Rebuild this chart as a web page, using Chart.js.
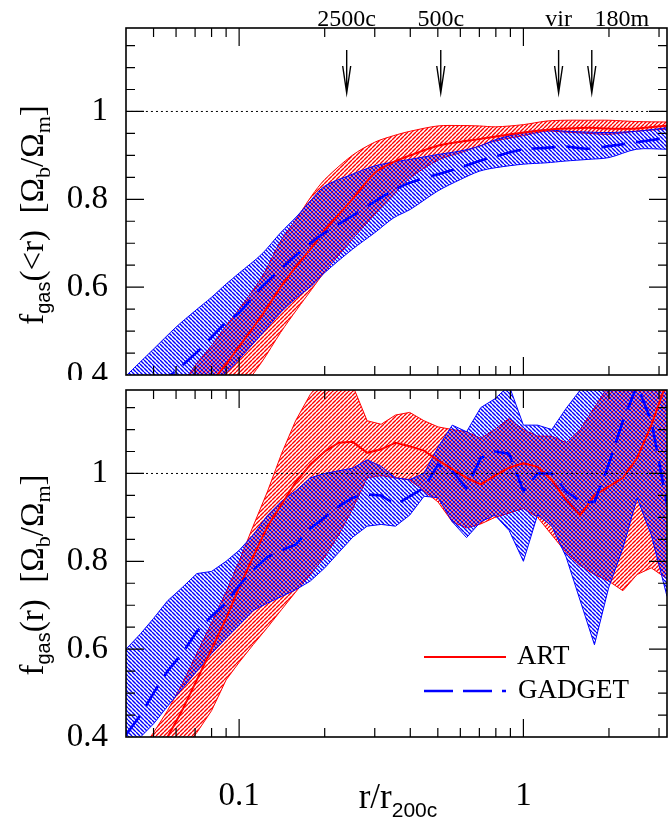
<!DOCTYPE html>
<html>
<head>
<meta charset="utf-8">
<script src="https://cdn.jsdelivr.net/npm/chart.js@4.4.1/dist/chart.umd.min.js"></script>
<style>
  html, body { margin: 0; padding: 0; background: #fff; }
  #wrap { position: relative; width: 668px; height: 823px; }
  .box { position: absolute; left: 0; width: 668px; }
</style>
</head>
<body>
<div id="wrap">
  <div class="box" style="top:0;height:380px"><canvas id="topChart"></canvas></div>
  <div class="box" style="top:380px;height:443px"><canvas id="botChart"></canvas></div>
</div>
<script>
const SERIF = '"Liberation Serif", "DejaVu Serif", serif';
const SANS = '"Liberation Sans", "DejaVu Sans", sans-serif';

// ---- top panel: cumulative f_gas(<r) ----
const xTop = [0.04, 0.05, 0.06, 0.07, 0.08, 0.09, 0.1, 0.12, 0.14, 0.16, 0.18, 0.2, 0.25, 0.3, 0.35, 0.4, 0.5, 0.6, 0.7, 0.8, 1.0, 1.2, 1.4, 1.7, 2.0, 2.5, 3.2];
const artTopMed = [0.22, 0.27, 0.31, 0.35, 0.385, 0.425, 0.465, 0.535, 0.6, 0.65, 0.69, 0.73, 0.8, 0.86, 0.885, 0.9, 0.922, 0.931, 0.937, 0.943, 0.952, 0.958, 0.961, 0.963, 0.961, 0.961, 0.968];
const artTopHi  = [0.22, 0.29, 0.36, 0.421, 0.467, 0.512, 0.55, 0.622, 0.705, 0.758, 0.808, 0.845, 0.9, 0.93, 0.945, 0.955, 0.967, 0.968, 0.967, 0.965, 0.97, 0.978, 0.98, 0.98, 0.98, 0.977, 0.976];
const artTopLo  = [0.1, 0.15, 0.2, 0.24, 0.28, 0.32, 0.36, 0.429, 0.497, 0.55, 0.595, 0.635, 0.709, 0.766, 0.811, 0.849, 0.889, 0.906, 0.921, 0.933, 0.945, 0.955, 0.953, 0.95, 0.948, 0.955, 0.96];
const gadTopMed = [0.33, 0.37, 0.41, 0.448, 0.486, 0.52, 0.542, 0.6, 0.641, 0.675, 0.702, 0.724, 0.762, 0.795, 0.821, 0.838, 0.857, 0.872, 0.887, 0.898, 0.914, 0.917, 0.92, 0.915, 0.921, 0.93, 0.94];
const gadTopHi  = [0.398, 0.459, 0.509, 0.546, 0.577, 0.607, 0.632, 0.675, 0.724, 0.762, 0.8, 0.83, 0.857, 0.876, 0.885, 0.891, 0.902, 0.91, 0.921, 0.936, 0.952, 0.958, 0.955, 0.953, 0.952, 0.955, 0.963];
const gadTopLo  = [0.25, 0.28, 0.31, 0.345, 0.383, 0.406, 0.436, 0.493, 0.542, 0.577, 0.603, 0.633, 0.686, 0.724, 0.758, 0.777, 0.819, 0.845, 0.864, 0.872, 0.88, 0.883, 0.887, 0.891, 0.895, 0.914, 0.914];

// ---- bottom panel: differential f_gas(r) ----
const xBot = [0.04, 0.045, 0.05, 0.056, 0.063, 0.071, 0.08, 0.09, 0.1, 0.112, 0.126, 0.141, 0.158, 0.178, 0.2, 0.224, 0.251, 0.282, 0.316, 0.355, 0.398, 0.447, 0.501, 0.562, 0.631, 0.708, 0.794, 0.891, 1.0, 1.122, 1.259, 1.413, 1.585, 1.778, 1.995, 2.239, 2.512, 2.818, 3.2];
const artBotMed = [0.24, 0.29, 0.34, 0.40, 0.46, 0.53, 0.60, 0.67, 0.74, 0.81, 0.88, 0.93, 0.98, 1.02, 1.05, 1.07, 1.072, 1.047, 1.055, 1.07, 1.062, 1.052, 1.03, 1.01, 0.99, 0.975, 0.995, 1.013, 1.023, 1.015, 0.985, 0.94, 0.905, 0.95, 0.97, 0.99, 1.035, 1.11, 1.21];
const artBotHi  = [0.33, 0.37, 0.41, 0.46, 0.52, 0.59, 0.66, 0.73, 0.80, 0.88, 0.96, 1.045, 1.12, 1.18, 1.22, 1.22, 1.2, 1.12, 1.112, 1.133, 1.139, 1.12, 1.106, 1.1, 1.095, 1.08, 1.1, 1.125, 1.1, 1.085, 1.085, 1.07, 1.1, 1.15, 1.2, 1.25, 1.25, 1.25, 1.25];
const artBotLo  = [0.2, 0.25, 0.29, 0.33, 0.37, 0.41, 0.46, 0.53, 0.57, 0.61, 0.65, 0.69, 0.73, 0.77, 0.81, 0.86, 0.92, 0.99, 0.995, 0.99, 0.985, 0.96, 0.935, 0.89, 0.876, 0.885, 0.9, 0.91, 0.92, 0.9, 0.86, 0.82, 0.79, 0.77, 0.755, 0.733, 0.77, 0.785, 0.76];
const gadBotMed = [0.405, 0.45, 0.50, 0.55, 0.59, 0.64, 0.675, 0.705, 0.745, 0.78, 0.81, 0.825, 0.838, 0.875, 0.9, 0.925, 0.945, 0.952, 0.95, 0.929, 0.948, 0.967, 1.02, 1.005, 0.967, 1.035, 1.05, 1.045, 0.96, 1.0, 1.0, 0.96, 0.935, 0.935, 1.02, 1.12, 1.2, 1.12, 0.93];
const gadBotHi  = [0.6, 0.635, 0.67, 0.71, 0.74, 0.772, 0.777, 0.8, 0.825, 0.86, 0.905, 0.937, 0.96, 0.99, 1.0, 1.006, 1.012, 1.031, 1.016, 0.99, 0.986, 1.0, 1.06, 1.11, 1.095, 1.15, 1.17, 1.2, 1.11, 1.11, 1.1, 1.148, 1.19, 1.25, 1.25, 1.25, 1.25, 1.25, 1.25];
const gadBotLo  = [0.36, 0.40, 0.43, 0.47, 0.51, 0.55, 0.59, 0.625, 0.655, 0.688, 0.705, 0.72, 0.735, 0.755, 0.785, 0.82, 0.855, 0.88, 0.884, 0.88, 0.905, 0.948, 0.945, 0.89, 0.854, 0.89, 0.905, 0.87, 0.8, 0.906, 0.88, 0.81, 0.71, 0.61, 0.74, 0.83, 0.944, 0.86, 0.72];

// axes
const X_MIN = 0.04, X_MAX = 3.2, Y_MIN = 0.4, Y_MAX = 1.19;
const xTickLabels = [0.1, 1];
const yTickLabels = [0.4, 0.6, 0.8, 1];
const xMinor = [0.05, 0.06, 0.07, 0.08, 0.09, 0.2, 0.3, 0.4, 0.5, 0.6, 0.7, 0.8, 0.9, 2, 3];
const yMinor = [0.45, 0.5, 0.55, 0.65, 0.7, 0.75, 0.85, 0.9, 0.95, 1.05, 1.1, 1.15];
const yMajor = [0.6, 0.8, 1.0];

// overdensity radii marked with arrows
const markerR = [0.239, 0.512, 1.33, 1.74];
const markerNames = ['2500c', '500c', 'vir', '180m'];
const markerShift = [0, 0, 0, 30];

function pts(xs, ys) { return xs.map((x, i) => ({ x: x, y: ys[i] })); }

// diagonal hatching, "/" for ART and "\" for GADGET
function hatch(color, back) {
  const n = 4;
  const c = document.createElement('canvas');
  c.width = n; c.height = n;
  const g = c.getContext('2d');
  g.strokeStyle = color;
  g.lineWidth = 1.4;
  g.beginPath();
  for (let k = -n; k <= n; k += n) {
    if (back) { g.moveTo(k, 0); g.lineTo(k + n, n); }
    else { g.moveTo(k, n); g.lineTo(k + n, 0); }
  }
  g.stroke();
  return g.createPattern(c, 'repeat');
}
const RED = '#ff0000', BLUE = '#0000ff';
const redHatch = hatch(RED, false);
const blueHatch = hatch(BLUE, true);

function buildDatasets(xs, aMed, aHi, aLo, gMed, gHi, gLo, tension) {
  const base = { pointRadius: 0, tension: tension, clip: 0 };
  return [
    Object.assign({ data: pts(xs, aHi), borderColor: RED, borderWidth: 1, fill: '+1', backgroundColor: redHatch, order: 4 }, base),
    Object.assign({ data: pts(xs, aLo), borderColor: RED, borderWidth: 1, fill: false, order: 4 }, base),
    Object.assign({ data: pts(xs, gHi), borderColor: BLUE, borderWidth: 1, fill: '+1', backgroundColor: blueHatch, order: 3 }, base),
    Object.assign({ data: pts(xs, gLo), borderColor: BLUE, borderWidth: 1, fill: false, order: 3 }, base),
    Object.assign({ data: pts(xs, aMed), borderColor: RED, borderWidth: 2, fill: false, order: 2 }, base),
    Object.assign({ data: pts(xs, gMed), borderColor: BLUE, borderWidth: 2.6, borderDash: [24, 11], fill: false, order: 1 }, base),
    Object.assign({ data: [{ x: X_MIN, y: 1 }, { x: X_MAX, y: 1 }], borderColor: '#000', borderWidth: 1, borderDash: [2, 3], fill: false, order: 0 }, base)
  ];
}

// box with inward ticks on all four sides
const framePlugin = {
  id: 'frame',
  afterDatasetsDraw(chart) {
    const { ctx, chartArea: a } = chart;
    const x = chart.scales.x, y = chart.scales.y;
    ctx.save();
    ctx.strokeStyle = '#000';
    ctx.lineWidth = 1.2;
    ctx.beginPath();
    const tx = (v, len) => {
      const p = x.getPixelForValue(v);
      ctx.moveTo(p, a.bottom); ctx.lineTo(p, a.bottom - len);
      ctx.moveTo(p, a.top); ctx.lineTo(p, a.top + len);
    };
    const ty = (v, len) => {
      const p = y.getPixelForValue(v);
      ctx.moveTo(a.left, p); ctx.lineTo(a.left + len, p);
      ctx.moveTo(a.right, p); ctx.lineTo(a.right - len, p);
    };
    xMinor.forEach(v => tx(v, 9));
    xTickLabels.forEach(v => tx(v, 18));
    yMinor.forEach(v => ty(v, 9));
    yMajor.forEach(v => ty(v, 18));
    ctx.stroke();
    ctx.lineWidth = 1.6;
    ctx.strokeRect(a.left, a.top, a.right - a.left, a.bottom - a.top);
    ctx.restore();
  }
};

// draws text made of pieces with subscripts; rotated when vertical
function drawMixed(ctx, parts, cx, cy, vertical) {
  ctx.save();
  let total = 0;
  parts.forEach(p => { ctx.font = p.font; total += ctx.measureText(p.t).width; });
  ctx.translate(cx, cy);
  if (vertical) ctx.rotate(-Math.PI / 2);
  ctx.fillStyle = '#000';
  ctx.textBaseline = 'alphabetic';
  ctx.textAlign = 'left';
  let pos = -total / 2;
  parts.forEach(p => {
    ctx.font = p.font;
    ctx.fillText(p.t, pos, p.dy || 0);
    pos += ctx.measureText(p.t).width;
  });
  ctx.restore();
}

const BIG = '33px ' + SERIF, SUB = '22px ' + SERIF, SUBS = '20px ' + SANS;
function yTitle(inner) {
  return [
    { t: 'f', font: BIG }, { t: 'gas', font: SUBS, dy: 7 },
    { t: inner + '  [\u03A9', font: BIG }, { t: 'b', font: SUB, dy: 7 },
    { t: '/\u03A9', font: BIG }, { t: 'm', font: SUB, dy: 7 }, { t: ']', font: BIG }
  ];
}

const topDecor = {
  id: 'topDecor',
  afterDraw(chart) {
    const ctx = chart.ctx, x = chart.scales.x;
    ctx.save();
    ctx.strokeStyle = '#000';
    ctx.fillStyle = '#000';
    ctx.lineWidth = 1.4;
    ctx.font = '24px ' + SERIF;
    ctx.textAlign = 'center';
    ctx.textBaseline = 'alphabetic';
    markerR.forEach((r, i) => {
      const p = x.getPixelForValue(r);
      ctx.beginPath();
      ctx.moveTo(p, 50); ctx.lineTo(p, 93);
      ctx.moveTo(p - 4, 66); ctx.lineTo(p, 93); ctx.lineTo(p + 4, 66);
      ctx.stroke();
      ctx.fillText(markerNames[i], p + markerShift[i], 26);
    });
    ctx.restore();
    drawMixed(ctx, yTitle('(<r)'), 43, 215, true);
  }
};

const botDecor = {
  id: 'botDecor',
  afterDraw(chart) {
    const ctx = chart.ctx;
    ctx.save();
    ctx.lineWidth = 2;
    ctx.strokeStyle = RED;
    ctx.beginPath(); ctx.moveTo(424, 277); ctx.lineTo(506, 277); ctx.stroke();
    ctx.strokeStyle = BLUE;
    ctx.lineWidth = 2.6;
    ctx.setLineDash([29, 10]);
    ctx.beginPath(); ctx.moveTo(424, 311); ctx.lineTo(506, 311); ctx.stroke();
    ctx.setLineDash([]);
    ctx.fillStyle = '#000';
    ctx.font = '27px ' + SERIF;
    ctx.textBaseline = 'middle';
    ctx.fillText('ART', 517, 277);
    ctx.fillText('GADGET', 518, 311);
    ctx.restore();
    drawMixed(ctx, yTitle('(r)'), 43, 195, true);
    drawMixed(ctx, [{ t: 'r/r', font: '35px ' + SERIF }, { t: '200c', font: '21px ' + SANS, dy: 9 }], 398, 428, false);
  }
};

function yScale() {
  return {
    type: 'linear', min: Y_MIN, max: Y_MAX,
    grid: { display: false, drawTicks: false },
    border: { display: false },
    ticks: {
      color: '#000', padding: 18, autoSkip: false,
      font: { family: SERIF, size: 33 },
      callback: v => (v === 1 ? '1' : v.toFixed(1))
    },
    afterBuildTicks: s => { s.ticks = yTickLabels.map(v => ({ value: v })); },
    afterFit: s => { s.width = 126; s.paddingTop = 0; s.paddingBottom = 0; }
  };
}

function commonOptions(xScale, padTop, padBottom) {
  return {
    responsive: true, maintainAspectRatio: false, animation: false,
    layout: { padding: { top: padTop, right: 1, bottom: padBottom, left: 0 } },
    plugins: { legend: { display: false }, tooltip: { enabled: false } },
    scales: { x: xScale, y: yScale() }
  };
}

new Chart(document.getElementById('topChart'), {
  type: 'line',
  data: { datasets: buildDatasets(xTop, artTopMed, artTopHi, artTopLo, gadTopMed, gadTopHi, gadTopLo, 0.3) },
  options: commonOptions({ type: 'logarithmic', min: X_MIN, max: X_MAX, display: false }, 28, 5),
  plugins: [framePlugin, topDecor]
});

new Chart(document.getElementById('botChart'), {
  type: 'line',
  data: { datasets: buildDatasets(xBot, artBotMed, artBotHi, artBotLo, gadBotMed, gadBotHi, gadBotLo, 0) },
  options: commonOptions({
    type: 'logarithmic', min: X_MIN, max: X_MAX,
    grid: { display: false, drawTicks: false },
    border: { display: false },
    ticks: {
      color: '#000', padding: 40, autoSkip: false, maxRotation: 0,
      font: { family: SERIF, size: 33 },
      callback: v => String(v)
    },
    afterBuildTicks: s => { s.ticks = xTickLabels.map(v => ({ value: v })); },
    afterFit: s => { s.height = 86; s.paddingLeft = 0; s.paddingRight = 0; }
  }, 10, 0),
  plugins: [framePlugin, botDecor]
});
</script>
</body>
</html>
